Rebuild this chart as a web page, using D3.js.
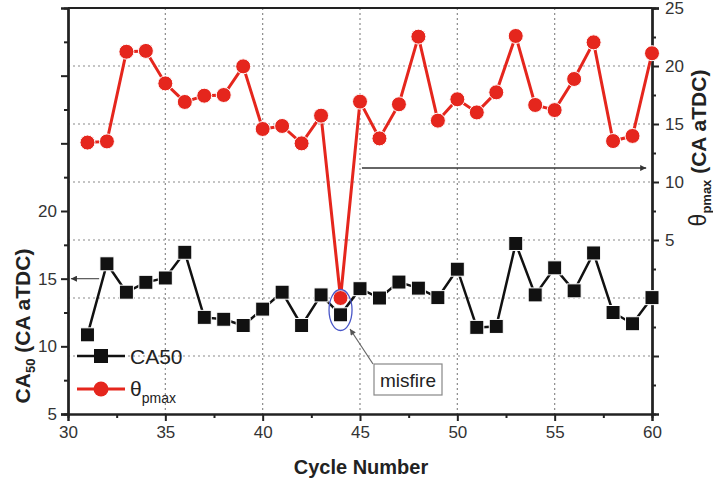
<!DOCTYPE html>
<html><head><meta charset="utf-8">
<script src="https://cdn.jsdelivr.net/npm/d3@7"></script>
<style>body{margin:0;background:#fff}svg{display:block;font-family:"Liberation Sans",Arial,sans-serif}</style>
</head><body><svg id="c" width="713" height="480"></svg>
<script>
const cycles = d3.range(31, 61);
const ca50 = [10.85,16.1,14.0,14.73,15.05,16.95,12.14,12.0,11.54,12.75,14.0,11.54,13.8,12.33,14.26,13.57,14.75,14.3,13.6,15.7,11.4,11.47,17.6,13.8,15.8,14.1,16.9,12.5,11.67,13.6];
const thetaPmax = [13.4,13.5,21.23,21.3,18.5,16.9,17.44,17.5,19.97,14.57,14.83,13.33,15.72,0,16.93,13.76,16.7,22.53,15.29,17.13,16.0,17.73,22.59,16.64,16.2,18.88,22.04,13.53,13.97,21.1];
const xTicks = [30,35,40,45,50,55,60];
const leftTicks = [5,10,15,20];
const rightTicks = [5,10,15,20,25];

const svg = d3.select("#c");
const L=68,R=652,T=8,B=414;
const x = d3.scaleLinear().domain([30,60]).range([L,R]);
const yL = d3.scaleLinear().domain([5,35]).range([B,T]);
const yR = d3.scaleLinear().domain([-10,25]).range([B,T]);
const red="#e5261d";

// grid
const g = svg.append("g");
g.selectAll(".vg").data([35,40,45,50,55]).enter().append("line")
 .attr("x1",d=>x(d)).attr("x2",d=>x(d)).attr("y1",T).attr("y2",B)
 .attr("stroke","#8a8a8a").attr("stroke-width",1.2).attr("stroke-dasharray","2,3");
g.selectAll(".hg").data([-5,0,5,10,15,20]).enter().append("line")
 .attr("x1",L).attr("x2",R).attr("y1",d=>yR(d)).attr("y2",d=>yR(d))
 .attr("stroke","#8a8a8a").attr("stroke-width",1.2).attr("stroke-dasharray","2,3");

// axes
const fs = "17px";
svg.append("g").attr("transform",`translate(0,${B})`)
 .call(d3.axisBottom(x).tickValues(xTicks).tickSize(7).tickPadding(5).tickFormat(d3.format("d")));
svg.append("g").attr("transform",`translate(0,${B})`)
 .call(d3.axisBottom(x).tickValues(d3.range(32.5,60,5)).tickSize(4).tickFormat(""));
svg.append("g").attr("transform",`translate(${L},0)`)
 .call(d3.axisLeft(yL).tickValues(leftTicks).tickSize(7).tickPadding(4).tickFormat(d3.format("d")));
svg.append("g").attr("transform",`translate(${L},0)`)
 .call(d3.axisLeft(yL).tickValues([25,30]).tickSize(7).tickFormat(""));
svg.append("g").attr("transform",`translate(${L},0)`)
 .call(d3.axisLeft(yL).tickValues(d3.range(7.5,35,5)).tickSize(4).tickFormat(""));
svg.append("g").attr("transform",`translate(${R},0)`)
 .call(d3.axisRight(yR).tickValues(rightTicks).tickSize(7).tickPadding(6).tickFormat(d3.format("d")));
svg.append("g").attr("transform",`translate(${R},0)`)
 .call(d3.axisRight(yR).tickValues([-5,0]).tickSize(7).tickFormat(""));
svg.append("g").attr("transform",`translate(${R},0)`)
 .call(d3.axisRight(yR).tickValues(d3.range(-7.5,25,5)).tickSize(4).tickFormat(""));
svg.selectAll(".domain").attr("stroke","#222").attr("stroke-width",2);
svg.selectAll(".tick line").attr("stroke","#222").attr("stroke-width",2);
svg.selectAll(".tick text").attr("font-size",fs).attr("fill","#333").attr("font-family","'Liberation Sans',Arial,sans-serif");
svg.append("line").attr("x1",L).attr("x2",R).attr("y1",T).attr("y2",T).attr("stroke","#222").attr("stroke-width",2);

// arrows
const defs = svg.append("defs");
defs.append("marker").attr("id","ah").attr("viewBox","0 0 10 10").attr("refX",10).attr("refY",5)
 .attr("markerWidth",9).attr("markerHeight",6).attr("markerUnits","userSpaceOnUse").attr("orient","auto")
 .append("path").attr("d","M0,0L10,5L0,10z").attr("fill","#333");
defs.append("marker").attr("id","ah2").attr("viewBox","0 0 10 10").attr("refX",10).attr("refY",5)
 .attr("markerWidth",8).attr("markerHeight",6).attr("markerUnits","userSpaceOnUse").attr("orient","auto")
 .append("path").attr("d","M0,0L10,5L0,10z").attr("fill","#555");
svg.append("line").attr("x1",x(31.6)).attr("x2",x(30.15)).attr("y1",yL(15)).attr("y2",yL(15))
 .attr("stroke","#555").attr("stroke-width",1.2).attr("marker-end","url(#ah)");
svg.append("line").attr("x1",x(45.1)).attr("x2",x(59.7)).attr("y1",yR(11.2)).attr("y2",yR(11.2))
 .attr("stroke","#333").attr("stroke-width",1.5).attr("marker-end","url(#ah)");

// theta line
const lineR = d3.line().x((d,i)=>x(cycles[i])).y(d=>yR(d));
svg.append("path").datum(thetaPmax).attr("d",lineR).attr("fill","none").attr("stroke",red).attr("stroke-width",3);
svg.selectAll(".cr").data(thetaPmax).enter().append("circle")
 .attr("cx",(d,i)=>x(cycles[i])).attr("cy",d=>yR(d)).attr("r",7.5)
 .attr("fill",red).attr("stroke","#fff").attr("stroke-width",1);

// CA50 line
const lineL = d3.line().x((d,i)=>x(cycles[i])).y(d=>yL(d));
svg.append("path").datum(ca50).attr("d",lineL).attr("fill","none").attr("stroke","#111").attr("stroke-width",2.5);
svg.selectAll(".sq").data(ca50).enter().append("rect")
 .attr("x",(d,i)=>x(cycles[i])-7).attr("y",d=>yL(d)-7).attr("width",14).attr("height",14)
 .attr("fill","#111").attr("stroke","#fff").attr("stroke-width",1);

// misfire annotation
svg.append("ellipse").attr("cx",x(44)).attr("cy",310).attr("rx",11.5).attr("ry",20.5)
 .attr("fill","none").attr("stroke","#4a57c8").attr("stroke-width",1.3);
svg.append("line").attr("x1",373).attr("y1",364).attr("x2",350).attr("y2",329)
 .attr("stroke","#666").attr("stroke-width",1.2).attr("marker-end","url(#ah2)");
svg.append("rect").attr("x",374).attr("y",364).attr("width",68).attr("height",31)
 .attr("fill","#fff").attr("stroke","#888").attr("stroke-width",1.2);
svg.append("text").attr("x",408).attr("y",387).attr("text-anchor","middle").attr("font-size","19px").attr("fill","#222").text("misfire");

// legend
const lg = svg.append("g");
lg.append("line").attr("x1",77).attr("x2",125).attr("y1",356).attr("y2",356).attr("stroke","#111").attr("stroke-width",2.5);
lg.append("rect").attr("x",94).attr("y",349).attr("width",14).attr("height",14).attr("fill","#111");
lg.append("text").attr("x",130).attr("y",364).attr("font-size","21px").attr("fill","#222").text("CA50");
lg.append("line").attr("x1",77).attr("x2",125).attr("y1",389).attr("y2",389).attr("stroke",red).attr("stroke-width",3);
lg.append("circle").attr("cx",101).attr("cy",389).attr("r",7.5).attr("fill",red);
const lt = lg.append("text").attr("x",130).attr("y",396).attr("font-size","21px").attr("fill","#222");
lt.append("tspan").text("θ");
lt.append("tspan").attr("font-size","14px").attr("dy",7).text("pmax");

// axis titles
svg.append("text").attr("x",361).attr("y",474).attr("text-anchor","middle").attr("font-size","20px").attr("font-weight","bold").attr("fill","#222").text("Cycle Number");
const lt2 = svg.append("text").attr("transform","translate(30,326) rotate(-90)").attr("text-anchor","middle").attr("font-size","21px").attr("font-weight","bold").attr("fill","#222");
lt2.append("tspan").text("CA");
lt2.append("tspan").attr("font-size","13px").attr("dy",5).text("50");
lt2.append("tspan").attr("dy",-5).text(" (CA aTDC)");
const rt2 = svg.append("text").attr("transform","translate(706,148) rotate(-90)").attr("text-anchor","middle").attr("font-size","21px").attr("font-weight","bold").attr("fill","#222");
rt2.append("tspan").attr("font-weight","normal").attr("font-size","23px").text("θ");
rt2.append("tspan").attr("font-size","13px").attr("dy",5).text("pmax");
rt2.append("tspan").attr("dy",-5).text(" (CA aTDC)");
</script></body></html>
